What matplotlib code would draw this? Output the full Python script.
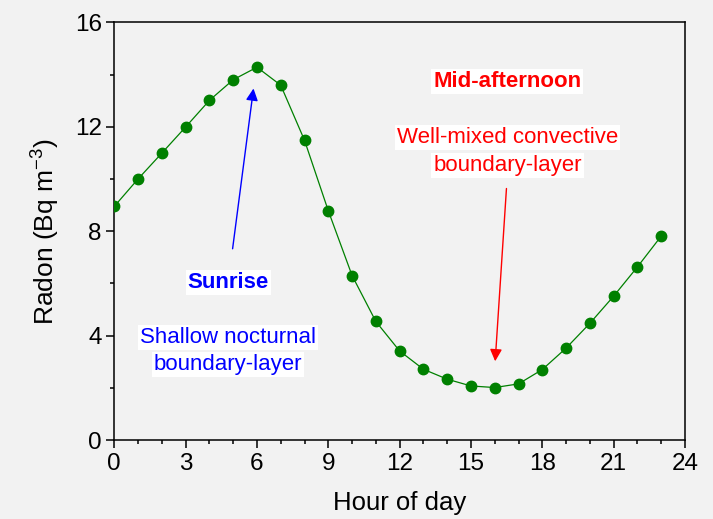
import matplotlib
matplotlib.use("Agg")
import matplotlib.pyplot as plt
from matplotlib.ticker import MultipleLocator

plt.rcParams['font.family'] = ['Liberation Sans', 'DejaVu Sans']

hours = list(range(24))
radon = [8.95, 10.0, 10.99, 11.99, 13.01, 13.80, 14.28, 13.59, 11.48, 8.78,
         6.30, 4.54, 3.41, 2.71, 2.33, 2.07, 2.01, 2.15, 2.70, 3.52,
         4.47, 5.51, 6.63, 7.81]
xticks = [0, 3, 6, 9, 12, 15, 18, 21, 24]
yticks = [0, 4, 8, 12, 16]

bg = '#f2f2f2'
fig = plt.figure(figsize=(7.13, 5.19), dpi=100, facecolor=bg)
ax = fig.add_axes([0.1603, 0.1522, 0.8004, 0.8048], facecolor=bg)

ax.plot(hours, radon, '-o', color='#008000', lw=0.9, ms=7.5, zorder=3)

ax.set_xlim(0, 24)
ax.set_ylim(0, 16)
ax.set_xticks(xticks)
ax.set_yticks(yticks)
ax.xaxis.set_minor_locator(MultipleLocator(1))
ax.yaxis.set_minor_locator(MultipleLocator(2))
ax.tick_params(which='major', direction='out', length=6, width=1.1, labelsize=17.5, pad=3)
ax.tick_params(which='minor', direction='out', length=3, width=1.1)
for s in ax.spines.values():
    s.set_linewidth(1.1)

ax.set_xlabel('Hour of day', fontsize=18.5, labelpad=12)
ax.set_ylabel('Radon (Bq m$^{\\mathregular{-3}}$)', fontsize=19, labelpad=10)

box = dict(facecolor='white', edgecolor='none', pad=1.5)
ax.text(16.53, 13.52, 'Mid-afternoon', color='red', fontsize=16, fontweight='bold',
        ha='center', va='baseline', bbox=box)
ax.text(16.53, 11.38, 'Well-mixed convective', color='red', fontsize=16,
        ha='center', va='baseline', bbox=box)
ax.text(16.53, 10.29, 'boundary-layer', color='red', fontsize=16,
        ha='center', va='baseline', bbox=box)
ax.text(4.79, 5.84, 'Sunrise', color='blue', fontsize=16, fontweight='bold',
        ha='center', va='baseline', bbox=box)
ax.text(4.79, 3.71, 'Shallow nocturnal', color='blue', fontsize=16,
        ha='center', va='baseline', bbox=box)
ax.text(4.79, 2.68, 'boundary-layer', color='blue', fontsize=16,
        ha='center', va='baseline', bbox=box)

ax.annotate('', xy=(16.01, 2.91), xytext=(16.5, 9.74),
            arrowprops=dict(arrowstyle='-|>', color='red', lw=1, mutation_scale=18))
ax.annotate('', xy=(5.87, 13.57), xytext=(4.96, 7.22),
            arrowprops=dict(arrowstyle='-|>', color='blue', lw=1, mutation_scale=18))

fig.savefig('out.png', dpi=100, facecolor=bg)
